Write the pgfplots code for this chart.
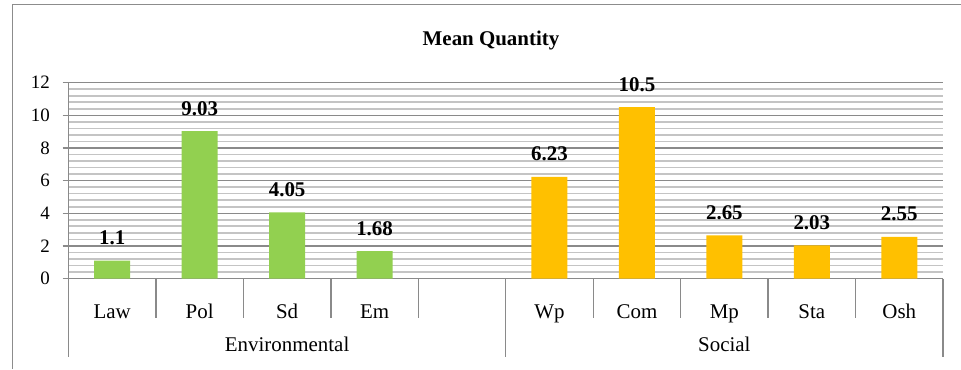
\documentclass[border=0pt]{standalone}
\usepackage{pgfplots}
\pgfplotsset{compat=1.18}
\usepackage{fontspec}
\setmainfont{Liberation Serif}
\definecolor{grn}{HTML}{92D050}
\definecolor{org}{HTML}{FFC000}
\definecolor{majg}{HTML}{8A8A8A}
\definecolor{ming}{HTML}{C4C4C4}
\definecolor{frameg}{HTML}{8C8C8C}
\begin{document}
\begin{tikzpicture}[x=1bp,y=1bp]
\useasboundingbox (0,0) rectangle (961,369);
% outer chart frame (cropped: top and left visible)
\draw[frameg, line width=1.5bp] (12.3,0) -- (12.3,364.3) -- (961,364.3);
\node[font=\fontsize{21}{24}\selectfont\bfseries, anchor=base] at (491,324) {Mean Quantity};
\begin{axis}[
  at={(68.5bp,90.5bp)}, anchor=south west,
  scale only axis, width=874.5bp, height=195.8bp,
  xmin=-0.5, xmax=9.5, ymin=0, ymax=12,
  axis lines*=left,
  axis line style={majg, line width=1.3bp},
  ytick={0,2,...,12},
  minor y tick num=4,
  ymajorgrids, yminorgrids,
  major grid style={majg, line width=1.3bp},
  minor grid style={ming, line width=1.6bp},
  tick align=outside,
  major tick length=6bp,
  minor tick length=0pt,
  y tick style={majg, line width=1.3bp},
  x tick style={draw=none},
  yticklabel style={font=\fontsize{19}{21}\selectfont, anchor=east, inner sep=0pt, xshift=-12.5bp},
  /pgf/number format/assume math mode=true,
  xtick={0,...,9},
  xticklabels={Law,Pol,Sd,Em,,Wp,Com,Mp,Sta,Osh},
  xticklabel style={font=\fontsize{21}{24}\selectfont, anchor=base, inner sep=0pt, yshift=-34bp},
  ybar, bar width=36bp,
  clip=false,
  nodes near coords,
  every node near coord/.append style={font=\fontsize{21}{24}\selectfont\bfseries, anchor=south, inner sep=0pt, yshift=15.5bp, black},
]
\addplot[fill=grn, draw=none, bar shift=0pt] coordinates {(0,1.1) (1,9.03) (2,4.05) (3,1.68)};
\addplot[fill=org, draw=none, bar shift=0pt] coordinates {(5,6.23) (6,10.5) (7,2.65) (8,2.03) (9,2.55)};
% category separators
\pgfplotsinvokeforeach{0.5,1.5,2.5,3.5,5.5,6.5,7.5,8.5}{
  \draw[majg, line width=1.3bp] (axis cs:#1,0) -- ([yshift=-39.5bp]axis cs:#1,0);
}
\pgfplotsinvokeforeach{-0.5,4.5,9.5}{
  \draw[majg, line width=1.3bp] (axis cs:#1,0) -- ([yshift=-78.5bp]axis cs:#1,0);
}
\node[font=\fontsize{21}{24}\selectfont, anchor=base] at ([yshift=-72.5bp]axis cs:2,0) {Environmental};
\node[font=\fontsize{21}{24}\selectfont, anchor=base] at ([yshift=-72.5bp]axis cs:7,0) {Social};
\end{axis}
\end{tikzpicture}
\end{document}
